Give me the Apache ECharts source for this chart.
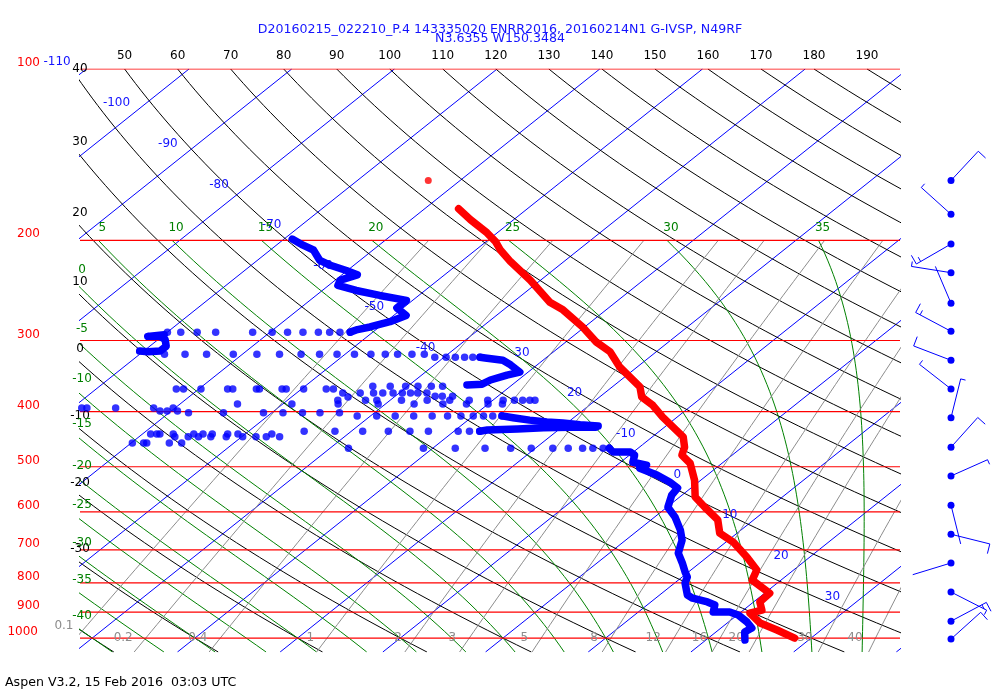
<!DOCTYPE html>
<html><head><meta charset="utf-8">
<script src="https://cdn.jsdelivr.net/npm/echarts@6/dist/echarts.min.js"></script>
<style>html,body{margin:0;padding:0;background:#fff}#c{width:1000px;height:700px}</style>
</head><body><div id="c"></div>
<script>
// ---------------- data ----------------
const titleLine1 = 'D20160215_022210_P.4 143335020 ENRR2016, 20160214N1 G-IVSP, N49RF';
const titleLine2 = 'N3.6355 W150.3484';
const footerText = 'Aspen V3.2, 15 Feb 2016  03:03 UTC';

// temperature profile (hPa, degC)
const tempP = [176,184,194,201,208,218,235,257,265,284,302,314,334,362,377,390,409,443,462,477,493,528,565,589,620,654,678,721,759,791,834,864,893,904,941,968,1000];
const tempT = [-56.7,-54.2,-51.0,-49.1,-47.6,-45.2,-41.0,-36.4,-34.2,-30.2,-27.0,-24.5,-21.7,-17.3,-15.9,-13.8,-11.4,-7.0,-5.6,-4.9,-3.1,-0.6,1.5,3.7,6.5,8.3,10.7,13.9,16.4,17.2,20.5,20.6,21.8,21.0,23.2,25.7,28.4];
const tempDotP = [157];
const tempDotT = [-63.1];

// dewpoint: continuous stretches
const dewUpperP = [199,204,208,217,221,226,230,235,240,245,250,255,263,271,278,284,287,290];
const dewUpperT = [-69.2,-67.4,-65.8,-63.9,-62.4,-60.1,-58.5,-59.5,-59.1,-56.7,-53.8,-50.6,-50.6,-48.8,-49.6,-50.9,-51.8,-52.2];
const dewHookLeftP = [293,295,295,299,307,313,314,313];
const dewHookLeftT = [-70.0,-71.4,-70.2,-69.3,-68.4,-68.4,-69.5,-70.4];
const dewHookMidP = [321,322,325,331,341,345,352,358,359];
const dewHookMidT = [-36.5,-35.9,-33.9,-32.6,-30.8,-31.7,-32.7,-33.0,-34.4];
const dewBandAP = [407,410,414,417,419,422,424];
const dewBandAT = [-27.2,-25.9,-24.0,-22.1,-20.4,-18.5,-16.6];
const dewBandBP = [433,431,429,427,426,426];
const dewBandBT = [-27.5,-26.9,-24.1,-21.7,-19.2,-16.7];
const dewLowerP = [464,471,471,477,491,497,503,517,532,545,561,589,613,646,673,709,738,766,781,800,840,851,864,875,900,900,911,937,960,976,1008];
const dewLowerT = [-12.8,-12.0,-10.3,-9.5,-8.8,-7.1,-7.4,-4.9,-2.8,-1.3,-1.0,0.1,2.0,4.1,5.5,6.7,8.3,9.7,10.5,11.0,12.7,13.6,15.5,16.6,17.3,18.9,20.1,21.8,23.0,22.8,23.8];
// dewpoint: scattered samples, grouped by pressure
const dewDotRowP = [290,317,321,361,365,371,376,377,382,388,394,399,402,407,433,438,443,454,464];
const dewDotRowT = [
 [-52.2,-53.2,-54.2,-55.3,-56.8,-58.3,-59.8,-61.7,-65.3,-67.1,-68.7,-70.0],
 [-67.6,-65.6,-63.5,-60.9,-58.6,-56.4,-54.3,-52.5,-50.8,-49.1,-47.5,-46.1,-44.9,-43.5,-42.3],
 [-40.9,-39.8,-38.9,-38.0,-37.2,-36.5],
 [-43.4,-41.7,-40.2,-39.0,-37.7,-36.6],
 [-62.2,-61.5,-59.8,-57.2,-56.7,-54.4,-54.1,-51.9,-51.5,-49.8,-47.6,-46.9],
 [-45.5,-43.8,-42.5,-41.6,-40.6,-39.7,-38.9,-38.2,-37.3],
 [-36.1,-35.4,-34.4],
 [-44.5],
 [-45.1,-42.4,-41.3,-38.9,-36.4,-34.2,-32.3,-30.5,-29.0,-27.9,-27.1,-26.4,-25.9],
 [-54.4,-49.1,-44.6,-40.7,-37.2,-34.4,-32.1,-30.0,-28.6],
 [-69.1,-68.6,-65.8,-62.1,-60.2],
 [-61.1,-60.4,-59.4],
 [-58.1,-54.7,-50.8,-48.9,-47.0,-45.3,-43.4],
 [-41.3,-39.4,-37.6,-35.8,-34.0,-32.5,-31.2,-30.0,-29.0,-28.1,-27.2],
 [-44.6,-41.6,-38.9,-36.4,-34.3,-32.5,-29.6,-28.5,-27.5],
 [-59.2,-58.6,-58.3,-57.0,-55.0,-54.1,-53.2,-51.7,-50.7,-47.4],
 [-56.5,-55.2,-54.2,-53.0,-51.5,-49.9,-48.6,-47.6,-46.3],
 [-59.9,-58.8,-58.5,-56.3,-55.1],
 [-38.2,-30.9,-27.8,-24.9,-22.4,-20.4,-18.3,-16.8,-15.4,-14.4,-13.4,-12.8]
];

// winds (hPa, direction deg, speed kt)
const windP = [157,180,203,228,258,289,325,365,410,462,519,584,657,738,830,934,1004];
const windDir = [43,312,240,279,337,298,291,308,14,42,66,166,104,253,117,62,48];
const windSpd = [10,5,15,5,3,15,10,5,5,10,5,3,10,3,5,15,10];

// diagram grid values
const pressureLevels = [100,200,300,400,500,600,700,800,900,1000];
const isothermT = [-110,-100,-90,-80,-70,-60,-50,-40,-30,-20,-10,0,10,20,30,40,50];
const dryTheta = [-40,-30,-20,-10,0,10,20,30,40,50,60,70,80,90,100,110,120,130,140,150,160,170,180,190];
const moistThetaW = [-40,-35,-30,-25,-20,-15,-10,-5,0,5,10,15,20,25,30,35];
const mixRatio = [0.1,0.2,0.4,1,2,3,5,8,12,16,20,30,40];

// tick labels
const isoLabelT = [-110,-100,-90,-80,-70,-60,-50,-40,-30,-20,-10,0,10,20,30];
const isoLabelText = ['-110','-100','-90','-80','-70','-60','-50','-40','30','20','-10','0','10','20','30'];
const isoLabelP = [97.2,114.7,135.4,159.9,188.0,221.9,262.0,309.3,315.6,371.0,438.0,517.0,607.9,717.6,847.1];
const thetaLeftVals = [40,30,20,10,0,-10,-20,-30];
const thetaLeftP = [100,134.3,179.0,236.8,310.5,407.2,534.0,697.5];
const thetaTopVals = [50,60,70,80,90,100,110,120,130,140,150,160,170,180,190];
const moistLeftVals = [0,-5,-10,-15,-20,-25,-30,-35,-40];
const moistLeftP = [225.5,286.4,350.6,420.6,498.5,583.8,680.8,790.8,914.8];
const moistTopVals = [5,10,15,20,25,30,35];
const mixLabelText = ['0.1','0.2','0.4','1','2','3','5','8','12','16','20','30','40'];
const mixLabelP = [952,1000,1000,1000,1000,1000,1000,1000,1000,1000,1000,1000,1000];

// ---------------- diagram geometry ----------------
const SKEW = 30.15;            // skew of isotherms, degC per ln(1000/p)
const KAPPA = 0.287;
const X_MIN = -41.19, X_MAX = 38.66, P_TOP = 100, P_BOT = 1058;
const FONT = '12px "DejaVu Sans"';
function skewX(T, p) { return T + SKEW * Math.log(1000 / p); }
function tDry(th, p) { return (th + 273.15) * Math.pow(p / 1000, KAPPA) - 273.15; }
function esat(T) { return 6.112 * Math.exp(17.67 * T / (T + 243.5)); }
function tMix(w, p) { const e = w * p / (622 + w); const l = Math.log(e / 6.112); return 243.5 * l / (17.67 - l); }
function thetaE(T, p) {
  const TK = T + 273.15, e = esat(T), r = 622 * e / (p - e);
  return TK * Math.pow(1000 / p, 0.2854 * (1 - 0.00028 * r)) * Math.exp((3.376 / TK - 0.00254) * r * (1 + 0.00081 * r));
}
function tMoist(tw, p) {
  const te = thetaE(tw, 1000); let lo = -130, hi = 45, mid = 0;
  for (let i = 0; i < 60; i++) { mid = (lo + hi) / 2; if (thetaE(mid, p) > te) hi = mid; else lo = mid; }
  return mid;
}
function levels(p1, p2, n) { const a = []; for (let i = 0; i <= n; i++) a.push(p1 * Math.pow(p2 / p1, i / n)); return a; }
const levFull = levels(P_TOP, P_BOT, 80);
const levLow = levels(200, P_BOT, 60);

function lineS(data, color, width, z) {
  return { type: 'line', data, symbol: 'none', showSymbol: false, silent: true, animation: false, clip: true, z,
    lineStyle: { color, width } };
}
function textS(items, color, align, dy, z) {
  return { type: 'custom', silent: true, animation: false, clip: false, z,
    data: items.map(it => [it.x, it.p]),
    renderItem: (params, api) => {
      const it = items[params.dataIndex];
      const c = api.coord([api.value(0), api.value(1)]);
      return { type: 'text', x: c[0] + (it.dx || 0), y: c[1] + dy,
        style: { text: it.text, fill: color, font: FONT, align, verticalAlign: 'middle' } };
    } };
}

const series = [];
isothermT.forEach(T => series.push(lineS([[skewX(T, P_TOP), P_TOP], [skewX(T, P_BOT), P_BOT]], '#0000ff', 1, 1)));
dryTheta.forEach(th => series.push(lineS(levFull.map(p => [skewX(tDry(th, p), p), p]), '#000000', 1, 2)));
moistThetaW.forEach(tw => series.push(lineS(levLow.map(p => [skewX(tMoist(tw, p), p), p]), '#008000', 1, 2)));
mixRatio.forEach(w => series.push(lineS(levLow.map(p => [skewX(tMix(w, p), p), p]), '#8c8c8c', 1, 2)));
pressureLevels.forEach(p => series.push(lineS([[X_MIN, p], [X_MAX, p]], '#ff0000', 1.2, 3)));

// labels
series.push(textS(pressureLevels.map(p => ({ x: X_MIN, p, text: String(p), dx: p === 1000 ? -42 : -40 })), '#ff0000', 'right', -6, 5));
series.push(textS(isoLabelT.map((T, i) => ({ x: skewX(T, isoLabelP[i]), p: isoLabelP[i], text: isoLabelText[i], dx: T === -110 ? -38 : -30 })), '#1414ff', 'center', 0, 5));
series.push(textS(thetaLeftVals.map((v, i) => ({ x: X_MIN, p: thetaLeftP[i], text: String(v) })), '#000000', 'center', 0, 5));
series.push(textS(thetaTopVals.map(v => ({ x: skewX(tDry(v, P_TOP), P_TOP), p: P_TOP, text: String(v) })), '#000000', 'center', -13, 5));
series.push(textS(moistLeftVals.map((v, i) => ({ x: X_MIN, p: moistLeftP[i], text: String(v), dx: 2 })), '#008000', 'center', 0, 5));
series.push(textS(moistTopVals.map(v => ({ x: skewX(tMoist(v, 200), 200), p: 200, text: String(v), dx: 4 })), '#008000', 'center', -12, 5));
series.push(textS(mixRatio.map((w, i) => ({ x: skewX(tMix(w, mixLabelP[i]), mixLabelP[i]), p: mixLabelP[i], text: mixLabelText[i], dx: -13 })), '#8c8c8c', 'right', 0, 5));

// profiles
function prof(P, T) { return T.map((t, i) => [skewX(t, P[i]), P[i]]); }
function thick(data, color, z) {
  return { type: 'line', data, symbol: 'none', showSymbol: false, animation: false, z,
    lineStyle: { color, width: 7.5, cap: 'round', join: 'round' } };
}
[[dewUpperP, dewUpperT], [dewHookLeftP, dewHookLeftT], [dewHookMidP, dewHookMidT], [dewBandAP, dewBandAT], [dewBandBP, dewBandBT], [dewLowerP, dewLowerT]]
  .forEach(s => series.push(thick(prof(s[0], s[1]), '#0000ff', 20)));
const dewDots = [];
dewDotRowP.forEach((p, r) => dewDotRowT[r].forEach(t => dewDots.push([skewX(t, p), p])));
series.push({ type: 'scatter', data: dewDots, symbolSize: 7.5, itemStyle: { color: '#0000ff' }, animation: false, z: 20 });
series.push(thick(prof(tempP, tempT), '#ff0000', 21));
series.push({ type: 'scatter', data: prof(tempDotP, tempDotT), symbolSize: 7, itemStyle: { color: '#ff0000' }, animation: false, z: 21 });

// wind barbs
series.push({ type: 'custom', animation: false, clip: false, z: 22, silent: true,
  data: windP.map((p, i) => [X_MAX, p, windDir[i], windSpd[i]]),
  renderItem: (params, api) => {
    const cs = params.coordSys;
    const y = api.coord([X_MAX, api.value(1)])[1];
    const x0 = cs.x + cs.width + 51;
    const a = api.value(2) * Math.PI / 180, spd = api.value(3);
    const ux = Math.sin(a), uy = -Math.cos(a), rx = -uy, ry = ux, L = 40;
    const st = { stroke: '#0000ff', lineWidth: 1 };
    const ch = [{ type: 'line', shape: { x1: x0, y1: y, x2: x0 + ux * L, y2: y + uy * L }, style: st }];
    let full = Math.floor(spd / 10), half = (spd % 10) >= 5 ? 1 : 0, pos = L;
    for (let k = 0; k < full; k++) {
      const bx = x0 + ux * pos, by = y + uy * pos;
      ch.push({ type: 'line', shape: { x1: bx, y1: by, x2: bx + rx * 10, y2: by + ry * 10 }, style: st });
      pos -= 5;
    }
    if (half) {
      const bx = x0 + ux * pos, by = y + uy * pos;
      ch.push({ type: 'line', shape: { x1: bx, y1: by, x2: bx + rx * 5, y2: by + ry * 5 }, style: st });
    }
    ch.push({ type: 'circle', shape: { cx: x0, cy: y, r: 3.5 }, style: { fill: '#0000ff' } });
    return { type: 'group', children: ch };
  } });

const chart = echarts.init(document.getElementById('c'), null, { renderer: 'canvas' });
chart.setOption({
  animation: false,
  backgroundColor: '#ffffff',
  title: [
    { text: titleLine1, left: 'center', top: 18, textStyle: { color: '#1414ff', fontSize: 12.6, fontWeight: 'normal', fontFamily: 'DejaVu Sans' } },
    { text: titleLine2, left: 'center', top: 27, textStyle: { color: '#1414ff', fontSize: 12.6, fontWeight: 'normal', fontFamily: 'DejaVu Sans' } },
    { text: footerText, left: 0, top: 671, textStyle: { color: '#000000', fontSize: 12.6, fontWeight: 'normal', fontFamily: 'DejaVu Sans' } }
  ],
  grid: { left: 80, right: 100, top: 69, bottom: 48, containLabel: false },
  xAxis: { type: 'value', min: X_MIN, max: X_MAX, show: false },
  yAxis: { type: 'log', logBase: 10, min: P_TOP, max: P_BOT, inverse: true, show: false },
  series
});
</script>
</body></html>
